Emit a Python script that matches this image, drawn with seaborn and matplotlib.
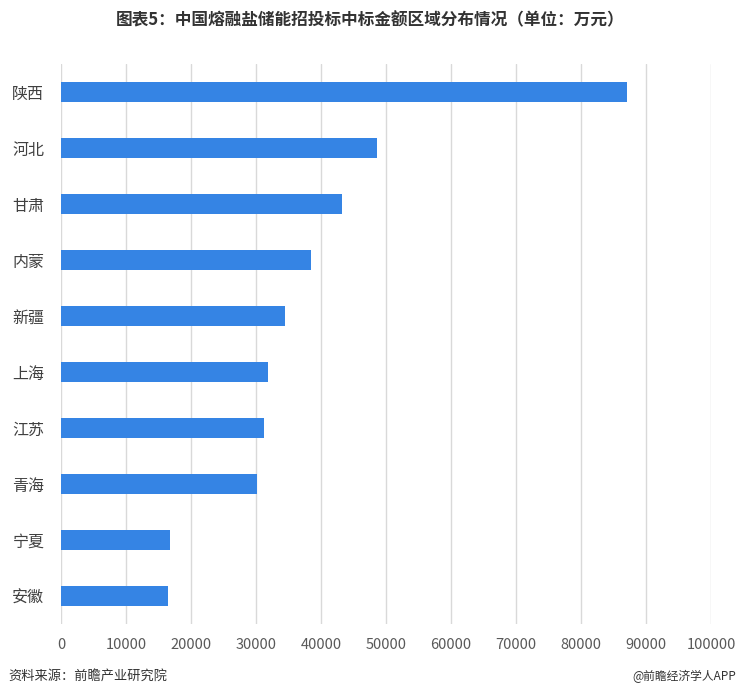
import pandas as pd
import matplotlib
matplotlib.use('Agg')
import matplotlib.pyplot as plt
import seaborn as sns

# 区域 / 中标金额（万元）
regions = ['陕西', '河北', '甘肃', '内蒙', '新疆', '上海', '江苏', '青海', '宁夏', '安徽']
amounts = [87100, 48600, 43200, 38400, 34500, 31800, 31200, 30100, 16800, 16400]
xticks = list(range(0, 100001, 10000))

df = pd.DataFrame({'region': regions, 'amount': amounts})

sns.set_theme(style='white')
plt.rcParams['font.family'] = ['Noto Sans CJK SC', 'DejaVu Sans']

fig = plt.figure(figsize=(7.41, 6.99), dpi=100)
ax = fig.add_axes([61 / 741, 1 - 624 / 699, 650 / 741, 560 / 699])

sns.barplot(data=df, x='amount', y='region', orient='h', color='#3584e4',
            saturation=1, width=0.36, linewidth=0, ax=ax)

ax.set_xlim(0, 100000)
ax.set_ylim(9.5, -0.5)
ax.set_xticks(xticks)
ax.set_xticklabels([str(t) for t in xticks])
ax.set_xlabel('')
ax.set_ylabel('')
ax.grid(axis='x', color='#d9d9d9', linewidth=1)
ax.set_axisbelow(True)
for s in ax.spines.values():
    s.set_visible(False)
ax.tick_params(axis='x', length=0, pad=10, labelsize=10.5, labelcolor='#595959')
ax.tick_params(axis='y', length=0, pad=12, labelsize=11.5, labelcolor='#404040')

fig.text(0.5, 1 - 20 / 699, '图表5：中国熔融盐储能招投标中标金额区域分布情况（单位：万元）',
         ha='center', va='center', fontsize=12, fontweight='bold', color='#333333')
fig.text(8 / 741, 1 - 676 / 699, '资料来源：前瞻产业研究院', ha='left', va='center',
         fontsize=9.5, color='#333333')
fig.text(736 / 741, 1 - 676 / 699, '@前瞻经济学人APP', ha='right', va='center',
         fontsize=8.5, color='#333333')

fig.savefig('out.png', dpi=100)
